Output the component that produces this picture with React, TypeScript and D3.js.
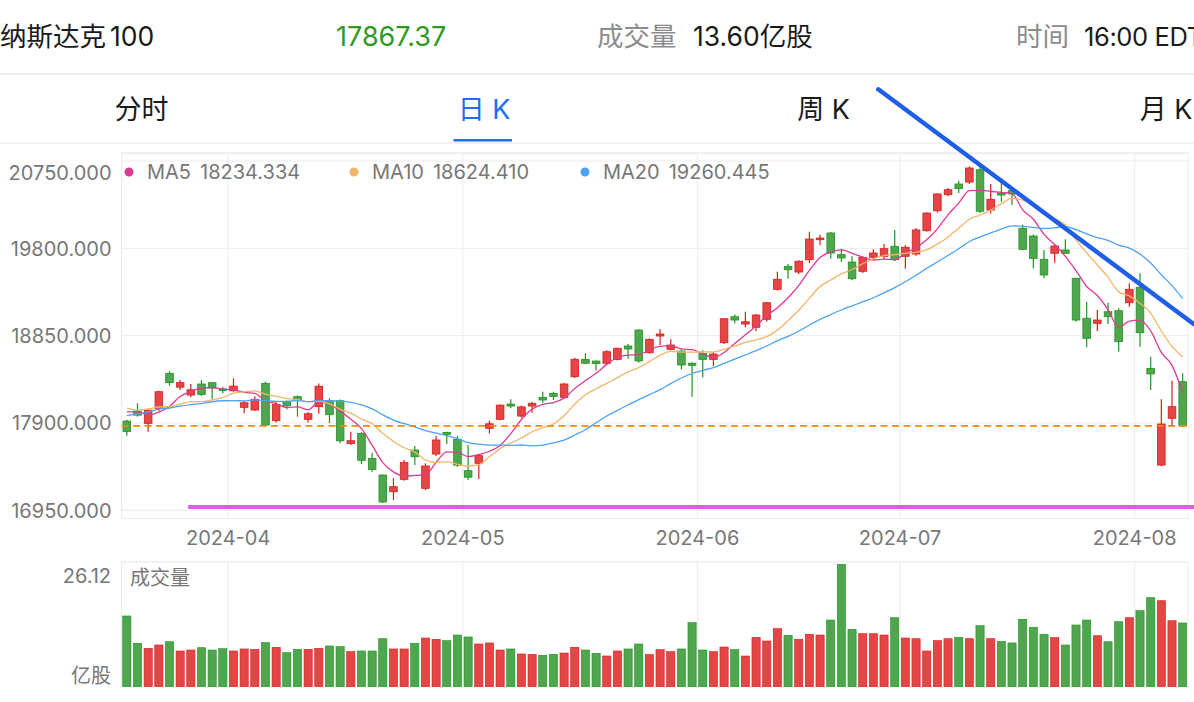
import React, { useEffect } from "react";
import * as d3 from "d3";

// trading days on screen (2024)
const marDays = [15, 18, 19, 20, 21, 22, 25, 26, 27, 28];
const aprDays = [1, 2, 3, 4, 5, 8, 9, 10, 11, 12, 15, 16, 17, 18, 19, 22, 23, 24, 25, 26, 29, 30];
const mayDays = [1, 2, 3, 6, 7, 8, 9, 10, 13, 14, 15, 16, 17, 20, 21, 22, 23, 24, 28, 29, 30, 31];
const junDays = [3, 4, 5, 6, 7, 10, 11, 12, 13, 14, 17, 18, 20, 21, 24, 25, 26, 27, 28];
const julDays = [1, 2, 3, 5, 8, 9, 10, 11, 12, 15, 16, 17, 18, 19, 22, 23, 24, 25, 26, 29, 30, 31];
const augDays = [1, 2, 5, 6, 7];

const months: [string, number[]][] = [
  ["03", marDays],
  ["04", aprDays],
  ["05", mayDays],
  ["06", junDays],
  ["07", julDays],
  ["08", augDays],
];
const dates = months.flatMap(([m, days]) =>
  days.map((d) => `2024-${m}-${String(d).padStart(2, "0")}`)
);

const opens = [
  17921, 18030, 17896, 18059, 18440, 18290, 18204, 18324, 18338, 18270,
  18250, 18070, 18041, 18331, 17925, 18131, 18186, 17940, 18077, 18142,
  18142, 17678, 17787, 17515, 17334, 17152, 17287, 17606, 17189, 17562,
  17797, 17722, 17381, 17461, 17842, 17940, 18106, 17975, 18084, 18179,
  18222, 18179, 18403, 18592, 18574, 18549, 18592, 18737, 18911, 18664,
  18846, 18701, 18683, 18550, 18657, 18592, 18773, 19056, 18976, 18941,
  19028, 19354, 19604, 19542, 19676, 19894, 19967, 19731, 19651, 19550,
  19702, 19713, 19822, 19713, 19738, 19992, 20209, 20383, 20500, 20521,
  20655, 20217, 20399, 20427, 20018, 19934, 19681, 19746, 19782, 19474,
  19039, 18984, 19110, 19121, 19208, 19376, 18494, 17442, 17951, 18349,
];
const highs = [
  17935, 18114, 18050, 18250, 18464, 18367, 18324, 18367, 18345, 18295,
  18386, 18140, 18190, 18350, 18125, 18145, 18200, 18020, 18330, 18170,
  18155, 17805, 17800, 17576, 17340, 17298, 17496, 17649, 17461, 17758,
  17805, 17758, 17660, 17560, 17925, 18100, 18157, 18090, 18131, 18240,
  18240, 18335, 18610, 18660, 18580, 18690, 18720, 18760, 18920, 18820,
  18920, 18810, 18700, 18560, 18692, 18675, 19040, 19080, 19110, 19085,
  19215, 19545, 19630, 19670, 19980, 19948, 19978, 19796, 19713, 19710,
  19790, 19847, 20000, 19833, 20020, 20190, 20400, 20456, 20536, 20690,
  20690, 20500, 20562, 20453, 20060, 19950, 19782, 19840, 19898, 19480,
  19219, 19130, 19208, 19147, 19419, 19528, 18621, 18157, 18360, 18440,
];
const lows = [
  17761, 17970, 17805, 18030, 18305, 18258, 18180, 18195, 18157, 18222,
  18240, 18005, 18030, 17860, 17905, 18050, 17968, 17905, 18000, 17900,
  17680, 17660, 17453, 17370, 17030, 17061, 17272, 17443, 17170, 17540,
  17671, 17424, 17280, 17290, 17787, 17930, 18059, 17960, 18011, 18120,
  18150, 18165, 18390, 18540, 18470, 18530, 18580, 18600, 18555, 18655,
  18748, 18690, 18484, 18186, 18397, 18520, 18760, 18984, 18940, 18900,
  19000, 19340, 19470, 19520, 19640, 19833, 19687, 19651, 19455, 19531,
  19676, 19676, 19660, 19578, 19720, 19980, 20190, 20366, 20402, 20500,
  20184, 20180, 20307, 20271, 19780, 19583, 19474, 19643, 19740, 19000,
  18723, 18900, 18977, 18675, 19165, 18730, 18258, 17433, 17859, 17859,
];
const closes = [
  17808, 17985, 18040, 18240, 18339, 18339, 18261, 18211, 18280, 18255,
  18301, 18120, 18157, 17877, 18100, 18088, 18150, 18000, 18300, 17990,
  17706, 17707, 17494, 17394, 17040, 17207, 17471, 17533, 17432, 17715,
  17776, 17441, 17310, 17545, 17891, 18094, 18084, 18075, 18114, 18150,
  18190, 18324, 18593, 18549, 18547, 18675, 18712, 18705, 18575, 18810,
  18868, 18748, 18531, 18527, 18592, 18650, 19034, 19020, 19001, 19074,
  19208, 19463, 19567, 19659, 19901, 19912, 19749, 19695, 19469, 19702,
  19749, 19796, 19676, 19811, 20000, 20184, 20391, 20438, 20449, 20674,
  20203, 20333, 20380, 20391, 19789, 19691, 19510, 19825, 19746, 19020,
  18821, 19020, 19056, 18784, 19354, 18882, 18433, 17889, 18077, 17867.37,
];
// 成交量, 亿股
const volumes = [
  15.09, 9.26, 8.19, 8.9, 9.6, 7.62, 7.83, 8.32, 7.83, 8.11,
  7.62, 8.05, 7.98, 9.39, 8.41, 7.26, 7.98, 7.98, 8.19, 8.69,
  8.54, 7.47, 7.62, 7.62, 10.24, 8.05, 8.05, 9.26, 10.39, 10.12,
  9.82, 11.03, 10.61, 9.11, 9.33, 7.83, 8.05, 6.98, 6.91, 6.7,
  6.91, 7.19, 8.41, 7.83, 7.13, 6.55, 7.62, 8.05, 9.11, 6.83,
  7.9, 7.47, 8.05, 13.66, 7.83, 7.47, 8.47, 7.9, 6.55, 10.54,
  9.75, 12.38, 10.97, 10.12, 11.18, 11.03, 14.23, 26.12, 12.25, 11.31,
  11.31, 11.03, 14.72, 10.39, 10.24, 7.62, 9.82, 10.24, 10.54, 10.24,
  13.02, 10.24, 9.69, 9.33, 14.38, 12.68, 11.18, 10.46, 8.9, 13.17,
  14.23, 10.88, 9.6, 13.87, 14.72, 16.22, 18.99, 18.35, 14.08, 13.6,
];
// closes of the 19 sessions before the first bar, used by the moving averages
const priorCloses = [
  17686, 17631, 17581, 18105, 17938, 17928, 17988, 17874, 18044, 18260,
  18190, 17926, 18032, 18290, 18082, 17980, 18222, 18078, 18014,
];

const priceTicks = [20750, 19800, 18850, 17900, 16950];
const maNames = ["MA5", "MA10", "MA20"];
const maPeriods = [5, 10, 20];
const maLegendValues = ["18234.334", "18624.410", "19260.445"];

// drawn annotations, in (bar index, price)
const supportLine = { from: 5.75, price: 16986 };
const trendLine = [
  { i: 70.46, price: 21530 },
  { i: 100.03, price: 18977 },
];

const W = 1194;
const H = 702;
const FONT = "Inter, 'Noto Sans CJK SC', sans-serif";
const RED = { fill: "#e44646", stroke: "#d41c1c" };
const GREEN = { fill: "#4fa64f", stroke: "#1d941d" };
const MA_COLORS = ["#df3a92", "#f2b56a", "#4ca3f5"];
const GRID = "#ececec";

export default function App() {
  useEffect(() => {
    document.body.style.margin = "0";
  }, []);

  const n = dates.length;
  const left = 121.5;
  const right = 1188;
  const x = d3.scaleLinear().domain([-0.5, n - 0.5]).range([left, right]);
  const y = d3.scaleLinear().domain([16950, 20750]).range([510.3, 161]);
  const volMax = d3.max(volumes) as number;
  const yVol = d3.scaleLinear().domain([0, volMax]).range([686.7, 564.3]);

  const allCloses = priorCloses.concat(closes);
  const off = priorCloses.length;
  const maValues = maPeriods.map((p) =>
    closes.map((_, i) => d3.mean(allCloses.slice(i + off - p + 1, i + off + 1)) as number)
  );
  const maLine = d3
    .line<number>()
    .x((_, i) => x(i))
    .y((v) => y(v))
    .curve(d3.curveMonotoneX);

  const monthStarts = dates
    .map((d, i) => ({ d, i }))
    .filter(({ d, i }) => i > 0 && d.slice(0, 7) !== dates[i - 1].slice(0, 7));

  const bodyW = 7.6;
  const lastClose = closes[n - 1];

  return (
    <div style={{ position: "absolute", left: 0, top: 0 }}>
      <svg width={W} height={H} style={{ display: "block", background: "#fff" }} fontFamily={FONT}>
        {/* header */}
        <g fontSize={26.5}>
          <text x={0} y={46} fill="#1a1a1a">
            纳斯达克<tspan dx={4}>100</tspan>
          </text>
          <text x={336} y={46} fill="#2f9a22" fontSize={27}>{lastClose.toFixed(2)}</text>
          <text x={597} y={46} fill="#8c8c8c">成交量</text>
          <text x={693} y={46} fill="#1a1a1a">{volumes[n - 1].toFixed(2)}亿股</text>
          <text x={1016} y={46} fill="#8c8c8c">时间</text>
          <text x={1084} y={46} fill="#1a1a1a" fontSize={25.5} letterSpacing={-0.4}>16:00 EDT</text>
        </g>
        <line x1={0} x2={W} y1={74} y2={74} stroke="#eeeeee" strokeWidth={2} />

        {/* period tabs */}
        <g fontSize={27} textAnchor="middle">
          <text x={141.5} y={119} fill="#1a1a1a">分时</text>
          <text x={484} y={119} fill="#1f6ff0">日 K</text>
          <text x={823.5} y={119} fill="#1a1a1a">周 K</text>
          <text x={1166} y={119} fill="#1a1a1a">月 K</text>
        </g>
        <line x1={453.5} x2={512} y1={140.3} y2={140.3} stroke="#1f6ff0" strokeWidth={2.5} />
        <line x1={0} x2={W} y1={143} y2={143} stroke="#eeeeee" strokeWidth={1.5} />

        {/* price panel frame & grid */}
        <line x1={left} x2={right} y1={153.3} y2={153.3} stroke="#eeeeee" strokeWidth={2} />
        <line x1={left} x2={right} y1={518.5} y2={518.5} stroke={GRID} />
        <line x1={left} x2={left} y1={153} y2={519} stroke={GRID} />
        <line x1={right} x2={right} y1={153} y2={519} stroke={GRID} />
        {priceTicks.map((t) => (
          <line key={t} x1={left} x2={right} y1={y(t)} y2={y(t)} stroke={GRID} />
        ))}
        {monthStarts.map(({ i }) => (
          <line key={i} x1={x(i - 0.5)} x2={x(i - 0.5)} y1={153} y2={519} stroke={GRID} />
        ))}
        <g fontSize={20} fill="#777" textAnchor="end">
          {priceTicks.map((t) => (
            <text key={t} x={111.5} y={Math.max(y(t), 173)} dy="0.36em">
              {t.toFixed(3)}
            </text>
          ))}
        </g>

        {/* candles */}
        {dates.map((d, i) => {
          const up = closes[i] >= opens[i];
          const c = up ? RED : GREEN;
          const top = y(Math.max(opens[i], closes[i]));
          const h = Math.max(1, Math.abs(y(opens[i]) - y(closes[i])));
          return (
            <g key={d}>
              <line x1={x(i)} x2={x(i)} y1={y(highs[i])} y2={y(lows[i])} stroke={c.stroke} strokeWidth={1.2} />
              <rect x={x(i) - bodyW / 2} y={top} width={bodyW} height={h} fill={c.fill} stroke={c.stroke} strokeWidth={0.8} />
            </g>
          );
        })}

        {/* moving averages */}
        {maValues.map((vals, k) => (
          <path key={k} d={maLine(vals) || ""} fill="none" stroke={MA_COLORS[k]} strokeWidth={1.3} />
        ))}

        {/* last price line */}
        <line x1={left} x2={right} y1={y(lastClose)} y2={y(lastClose)} stroke="#f28a0c" strokeWidth={1.8} strokeDasharray="7,4.5" />

        {/* legend */}
        <g fontSize={20} fill="#777">
          {maNames.map((name, k) => {
            const lx = [147, 372, 603][k];
            return (
              <g key={name}>
                <circle cx={lx - 18} cy={172} r={4.5} fill={MA_COLORS[k]} />
                <text x={lx} y={172} dy="0.36em" style={{ whiteSpace: "pre" }}>
                  {name}
                  <tspan dx={9}>{maLegendValues[k]}</tspan>
                </text>
              </g>
            );
          })}
        </g>

        {/* month labels */}
        <g fontSize={20} fill="#777" textAnchor="middle">
          {monthStarts.map(({ d, i }) => (
            <text key={d} x={x(i - 0.5)} y={538} dy="0.36em">
              {d.slice(0, 7)}
            </text>
          ))}
        </g>

        {/* volume panel */}
        <line x1={left} x2={right} y1={561.7} y2={561.7} stroke="#eeeeee" strokeWidth={1.5} />
        <line x1={left} x2={left} y1={561.7} y2={687} stroke={GRID} />
        <line x1={right} x2={right} y1={561.7} y2={687} stroke={GRID} />
        {monthStarts.map(({ i }) => (
          <line key={i} x1={x(i - 0.5)} x2={x(i - 0.5)} y1={561.7} y2={687} stroke={GRID} />
        ))}
        {dates.map((d, i) => {
          const c = closes[i] >= opens[i] ? RED : GREEN;
          return (
            <rect
              key={d}
              x={x(i) - 4.1}
              y={yVol(volumes[i])}
              width={8.2}
              height={yVol(0) - yVol(volumes[i])}
              fill={c.fill}
              stroke={c.stroke}
              strokeWidth={0.6}
            />
          );
        })}
        <g fontSize={20} fill="#777">
          <text x={111} y={576} dy="0.36em" textAnchor="end">{volMax.toFixed(2)}</text>
          <text x={111} y={676} dy="0.36em" textAnchor="end">亿股</text>
          <text x={130} y={578} dy="0.36em">成交量</text>
        </g>

        {/* drawn support / trend lines */}
        <line
          x1={x(supportLine.from)}
          x2={W}
          y1={y(supportLine.price)}
          y2={y(supportLine.price)}
          stroke="#e957f2"
          strokeWidth={4}
        />
        <line
          x1={x(trendLine[0].i)}
          y1={y(trendLine[0].price)}
          x2={x(trendLine[1].i)}
          y2={y(trendLine[1].price)}
          stroke="#1f5fe8"
          strokeWidth={4.5}
          strokeLinecap="round"
        />
      </svg>
    </div>
  );
}
